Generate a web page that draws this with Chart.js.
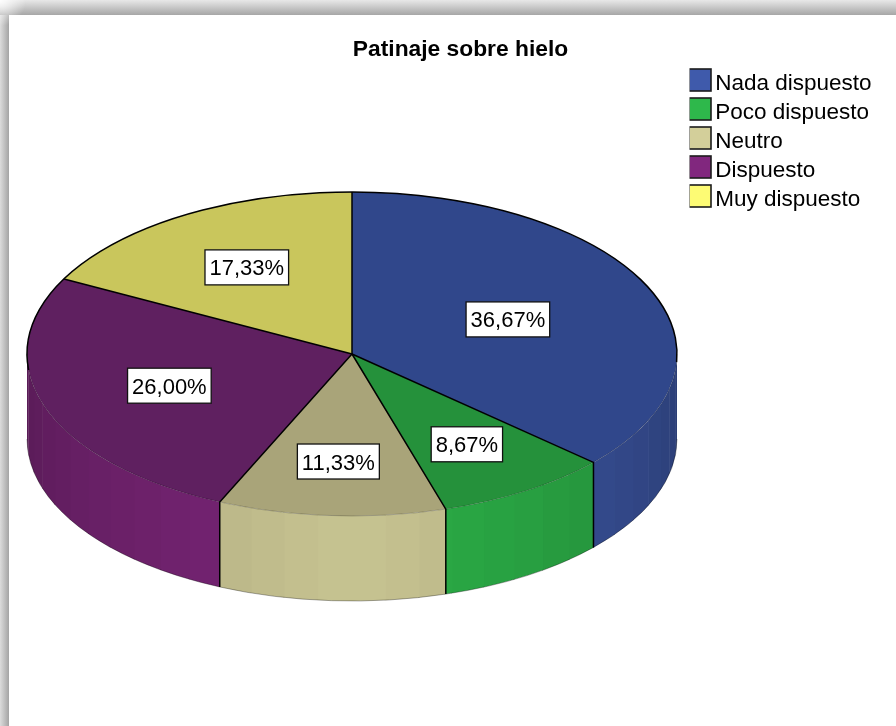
<!DOCTYPE html>
<html><head><meta charset="utf-8">
<script src="https://cdn.jsdelivr.net/npm/chart.js@4/dist/chart.umd.min.js"></script>
<style>
html,body{margin:0;padding:0;width:896px;height:726px;overflow:hidden;background:#fff}
#shade{position:absolute;left:0;top:0;width:896px;height:726px;background:
 radial-gradient(circle at 0 0,rgba(255,255,255,.95) 0,rgba(255,255,255,0) 26px) 0 0/40px 40px no-repeat,
 linear-gradient(#e8e8e8,#a6a6a6) 0 0/100% 15px no-repeat,
 linear-gradient(90deg,#dcdcdc,#a4a4a4) 0 0/9px 100% no-repeat}
canvas{position:absolute;left:0;top:0}
</style></head><body>
<div id="shade"></div>
<canvas id="c" width="896" height="726"></canvas>
<script>
const categories=["Nada dispuesto","Poco dispuesto","Neutro","Dispuesto","Muy dispuesto"];
const percentages=[36.67,8.67,11.33,26.00,17.33];
const percentLabels=["36,67%","8,67%","11,33%","26,00%","17,33%"];
const titleText="Patinaje sobre hielo";
const topColors=["#30478B","#25913B","#A9A479","#5F2060","#C9C65C"];
const legendColors=["#3F5AAB","#2EB84B","#D3CF9A","#81277E","#FDFB74"];
const labelRadius=[0.525,0.66,0.665,0.595,0.625];

const TILT=162/325, DEPTH=85, FONT="'Liberation Sans',Arial,sans-serif";
function shadeHex(h,f){const n=parseInt(h.slice(1),16);
  return `rgb(${Math.round((n>>16&255)*f)},${Math.round((n>>8&255)*f)},${Math.round((n&255)*f)})`;}
function legendSwatch(color){
  const s=document.createElement('canvas');s.width=24;s.height=32;
  const g=s.getContext('2d');
  g.fillStyle=color;g.fillRect(1,1,22,22);
  g.strokeStyle='#1c1c1c';g.lineWidth=1.6;g.strokeRect(1,1,22,22);
  return s;
}

const pie3d={
  id:'pie3d',
  afterLayout(chart){
    chart.chartArea={left:27,top:29,right:677,bottom:679,width:650,height:650};
    const t=chart.titleBlock; t.left=0;t.right=921;t.top=36;t.bottom=62;
    const l=chart.legend; l.left=689.5;l.right=896;l.top=66.25;l.bottom=300;
  },
  beforeDatasetsDraw(chart){
    const ctx=chart.ctx, arcs=chart.getDatasetMeta(0).data;
    arcs.forEach((arc,i)=>{
      const p=arc.getProps(['x','y','startAngle','endAngle','outerRadius'],true);
      const a0=Math.max(p.startAngle,0), a1=Math.min(p.endAngle,Math.PI);
      const rx=p.outerRadius, ry=rx*TILT, step=Math.PI/30;
      if(a1<=a0) return;
      const first=Math.floor(a0/step), last=Math.ceil(a1/step);
      for(let s=first;s<last;s++){
        const b0=Math.max(s*step,a0), b1=Math.min((s+1)*step,a1);
        const d=Math.abs(((s+.5)*step-Math.PI/2))*180/Math.PI;
        ctx.beginPath();
        ctx.ellipse(p.x,p.y,rx,ry,0,b0,b1+0.004);
        ctx.ellipse(p.x,p.y+DEPTH,rx,ry,0,b1+0.004,b0,true);
        ctx.closePath();
        ctx.fillStyle=shadeHex(legendColors[i],0.94-0.26*Math.pow(d/90,1.2));
        ctx.fill();
      }
      ctx.beginPath();
      ctx.ellipse(p.x,p.y+DEPTH,rx,ry,0,a0,a1);
      ctx.strokeStyle='rgba(0,0,0,.55)';ctx.lineWidth=.6;ctx.stroke();
    });
    const a=arcs[0].getProps(['x','y'],true);
    ctx.save();
    ctx.translate(a.x,a.y);ctx.scale(1,TILT);ctx.translate(-a.x,-a.y);
  },
  afterDatasetsDraw(chart){
    const ctx=chart.ctx, arcs=chart.getDatasetMeta(0).data;
    ctx.restore();
    const c=arcs[0].getProps(['x','y','outerRadius'],true), rx=c.outerRadius, ry=rx*TILT;
    ctx.lineCap='butt';
    ctx.lineWidth=.6;ctx.strokeStyle='rgba(0,0,0,.35)';
    ctx.beginPath();ctx.ellipse(c.x,c.y,rx,ry,0,0,Math.PI);ctx.stroke();
    ctx.strokeStyle='#000';ctx.lineWidth=1.5;
    ctx.beginPath();ctx.ellipse(c.x,c.y,rx,ry,0,Math.PI-0.1,2*Math.PI+0.05);ctx.stroke();
    arcs.forEach(arc=>{
      const p=arc.getProps(['startAngle'],true), x=c.x+rx*Math.cos(p.startAngle), y=c.y+ry*Math.sin(p.startAngle);
      ctx.beginPath();ctx.moveTo(c.x,c.y);ctx.lineTo(x,y);
      if(Math.sin(p.startAngle)>0) ctx.lineTo(x,y+DEPTH);
      ctx.stroke();
    });
    ctx.font="22px "+FONT;ctx.textAlign='center';ctx.textBaseline='middle';
    arcs.forEach((arc,i)=>{
      const p=arc.getProps(['startAngle','endAngle'],true), m=(p.startAngle+p.endAngle)/2;
      const x=c.x+rx*labelRadius[i]*Math.cos(m), y=c.y+ry*labelRadius[i]*Math.sin(m);
      const w=ctx.measureText(percentLabels[i]).width+9, h=35;
      ctx.fillStyle='#fff';ctx.fillRect(x-w/2,y-h/2,w,h);
      ctx.strokeStyle='#111';ctx.lineWidth=1.3;ctx.strokeRect(x-w/2,y-h/2,w,h);
      ctx.fillStyle='#000';ctx.fillText(percentLabels[i],x,y+2);
    });
  }
};

new Chart(document.getElementById('c'),{
  type:'pie',
  data:{labels:categories,datasets:[{data:percentages,backgroundColor:topColors,borderWidth:0,clip:false}]},
  options:{
    responsive:false,animation:false,rotation:0,
    plugins:{
      tooltip:{enabled:false},
      title:{display:true,text:titleText,color:'#000',padding:0,font:{family:FONT,size:22.8,weight:'bold'}},
      legend:{display:true,position:'right',align:'start',labels:{
        boxWidth:8,boxHeight:22,usePointStyle:true,padding:6.5,color:'#000',
        font:{family:FONT,size:22.5},
        generateLabels:()=>categories.map((t,i)=>({text:t,fillStyle:legendColors[i],strokeStyle:'#1c1c1c',lineWidth:0,pointStyle:legendSwatch(legendColors[i]),hidden:false,index:i}))
      }}
    }
  },
  plugins:[pie3d]
});
</script>
</body></html>
